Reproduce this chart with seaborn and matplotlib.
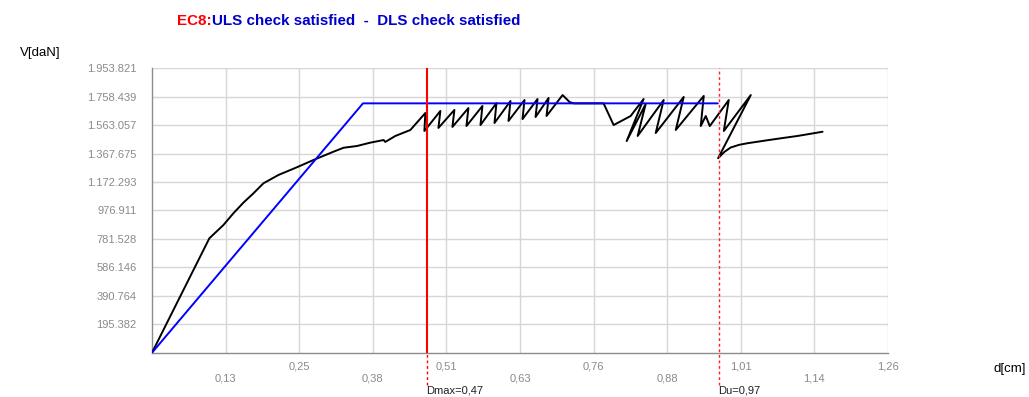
import matplotlib
matplotlib.use("Agg")
import matplotlib.pyplot as plt
import seaborn as sns
import pandas as pd

# Capacity curve (displacement in cm, shear in daN scale units)
curve_d = [0.0, 0.0982, 0.1222, 0.1394, 0.1565, 0.1737, 0.1908, 0.2165, 0.2481,
           0.2765, 0.3108, 0.3279, 0.3509, 0.3737, 0.3965, 0.3994, 0.4166, 0.4423,
           0.4680, 0.4663,
           0.4937, 0.4903, 0.5177, 0.5143, 0.5417, 0.5383, 0.5657, 0.5623,
           0.5897, 0.5863, 0.6137, 0.6103, 0.6377, 0.6343, 0.6600, 0.6566,
           0.6789, 0.6754, 0.7029,
           0.7149, 0.7217, 0.7680, 0.7731, 0.7903, 0.8194, 0.8417, 0.8126,
           0.8452, 0.8314, 0.8760, 0.8623, 0.9103, 0.8966, 0.9446, 0.9394,
           0.9480, 0.9549, 0.9874, 0.9789, 1.0251,
           0.9691, 0.9800, 0.9909, 1.0050, 1.0195, 1.0474, 1.0766, 1.1052, 1.1480]
curve_v = [0, 786, 877, 958, 1031, 1095, 1164, 1221, 1274,
           1324, 1381, 1408, 1420, 1443, 1461, 1448, 1489, 1530,
           1647, 1523,
           1661, 1544, 1668, 1551, 1681, 1557, 1695, 1564,
           1715, 1578, 1729, 1592, 1736, 1605, 1743, 1619,
           1750, 1626, 1770,
           1722, 1713, 1713, 1713, 1564, 1626, 1743, 1454,
           1709, 1489, 1736, 1509, 1757, 1530, 1764, 1557,
           1626, 1557, 1736, 1523, 1770,
           1336, 1380, 1410, 1428, 1439, 1456, 1473, 1489, 1518]

# Equivalent bilinear system
bilin_d = [0.0, 0.3612, 0.9686]
bilin_v = [0, 1713, 1713]

d_max = 0.47
d_u = 0.97

y_ticks = [195.382, 390.764, 586.146, 781.528, 976.911, 1172.293,
           1367.675, 1563.057, 1758.439, 1953.821]
y_labels = ["195.382", "390.764", "586.146", "781.528", "976.911",
            "1.172.293", "1.367.675", "1.563.057", "1.758.439", "1.953.821"]
x_ticks = [0.126 * i for i in range(1, 11)]
x_labels = ["0,13", "0,25", "0,38", "0,51", "0,63", "0,76", "0,88", "1,01", "1,14", "1,26"]

sns.set_style("white")
plt.rcParams['font.family'] = ['Liberation Sans', 'DejaVu Sans']

fig = plt.figure(figsize=(10.29, 3.97), dpi=100)
ax = fig.add_axes([152 / 1029, 44.3 / 397, 736 / 1029, 284.4 / 397])

curve = pd.DataFrame({"d": curve_d, "V": curve_v})
bilin = pd.DataFrame({"d": bilin_d, "V": bilin_v})
sns.lineplot(data=curve, x="d", y="V", sort=False, estimator=None,
             color="black", lw=1.4, ax=ax, zorder=3)
sns.lineplot(data=bilin, x="d", y="V", sort=False, estimator=None,
             color="#0000ff", lw=1.4, ax=ax, zorder=4)

ax.set_xlim(0, 1.26)
ax.set_ylim(0, 1953.821)

# Staggered x labels: odd positions as major, even as minor ticks
ax.set_xticks(x_ticks[0::2])
ax.set_xticklabels(x_labels[0::2])
ax.set_xticks(x_ticks[1::2], minor=True)
ax.set_xticklabels(x_labels[1::2], minor=True)
ax.tick_params(axis="x", which="major", length=0, pad=15, labelsize=8, labelcolor="#8a8a8a")
ax.tick_params(axis="x", which="minor", length=0, pad=6, labelsize=8, labelcolor="#8a8a8a")
ax.set_yticks(y_ticks)
ax.set_yticklabels(y_labels)
ax.tick_params(axis="y", length=0, pad=11, labelsize=8, labelcolor="#8a8a8a")

ax.grid(True, which="both", color="#d6d6d6", lw=1)
ax.set_axisbelow(True)
for side in ("top", "right"):
    ax.spines[side].set_visible(False)
for side in ("left", "bottom"):
    ax.spines[side].set_color("#8c8c8c")
    ax.spines[side].set_linewidth(1)
ax.set_xlabel("")
ax.set_ylabel("")

# Target displacement and ultimate displacement markers
ax.axvline(d_max, color="#ff0000", lw=1.5, zorder=5)
ax.vlines(d_max, -225, 0, colors="#ff0000", lw=1.0, linestyles=(0, (2, 2)), clip_on=False)
ax.vlines(d_u, -225, 1953.821, colors="#ff2020", lw=1.0, linestyles=(0, (2, 2)),
          clip_on=False, zorder=5)
ax.text(d_max, -262, "Dmax=0,47", fontsize=8, color="#202020", ha="left", va="center")
ax.text(d_u, -262, "Du=0,97", fontsize=8, color="#202020", ha="left", va="center")

fig.text(20 / 1029, 1 - 53 / 397, "V[daN]", fontsize=9.5, color="black", va="center")
fig.text(993 / 1029, 1 - 369 / 397, "d[cm]", fontsize=9.5, color="black", va="center")

# Title in two colours
t1 = fig.text(177 / 1029, 1 - 21 / 397, "EC8:", fontsize=10.9, fontweight="bold",
              color="#ff0000", va="center")
fig.canvas.draw()
bb = t1.get_window_extent(renderer=fig.canvas.get_renderer())
fig.text(bb.x1 / fig.bbox.width, 1 - 21 / 397,
         "ULS check satisfied  -  DLS check satisfied", fontsize=10.9,
         fontweight="bold", color="#0000cc", va="center")

fig.savefig("out.png", dpi=100, facecolor="white")
